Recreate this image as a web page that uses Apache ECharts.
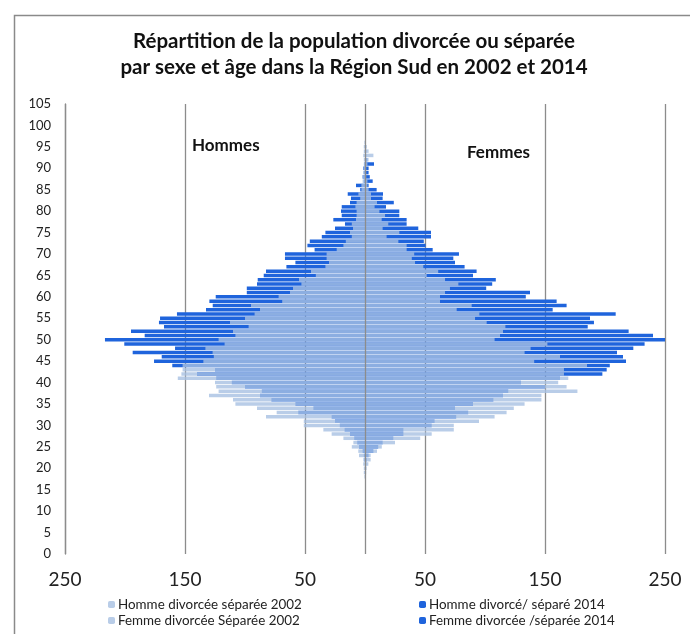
<!DOCTYPE html>
<html>
<head>
<meta charset="utf-8">
<script src="https://cdn.jsdelivr.net/npm/echarts@6/dist/echarts.min.js"></script>
<style>
html,body{margin:0;padding:0;background:#fff;}
#chart{width:690px;height:634px;}
</style>
</head>
<body>
<div id="chart"></div>
<script>
// Ages 0..105 (category axis)
var ages = [];
for (var a = 0; a <= 105; a++) ages.push(String(a));

// Values, index = age (0..105)
var hommes2002 = [
0,0,0,0,0,0,0,0,0,0, 0,0,0,0,0,0,0,0,0.5,1,
1,1.5,1.4,5,5.6,11,9.7,18,27.8,34.7,
51,51,82.5,73.6,90,108,110,130,122,124,
125,156,153,152,152,134.7,126,127,133,117,
122,108,110,97,112.5,100,92,87.5,95,69,
72,62.5,60,53,55,41,45,33,30,32,
32,23.6,18,16,11,12.5,10,11,7.5,7,
7,8,7,4,5.5,3,3,2,2,1.5,
1,1,1,1.5,1,1,0.5,0,0,0,
0,0,0,0,0,0];
var hommes2014 = [
0,0,0,0,0,0,0,0,0,0, 0,0,0,0,0,0,0,0,0,0,
0,0,0.5,1,2,5,6.5,9,12.5,17,
21,25,27.8,55.6,43,58,78,87.5,86,100,
111,124,140,125,160.6,175.8,169.4,193.6,158.3,200.6,
216.7,183.6,195,167.5,171.7,170.8,156.7,132.5,126.9,129.7,
124.4,98.5,98.5,90,89.4,84.4,82.5,65.5,58,66.7,
66.7,42,48,46,36,33,25,16.7,26.4,19.4,
20,19.4,12.5,11.7,14.4,4,7.5,1,2,1,
1.4,0.5,0,0,0,0,0,0,0,0,
0,0,0,0,0,0];
var femmes2002 = [
0,0,0,0,0,0,0,0,0,0, 0,0,0,0,0,0,0,0,0,1,
1.4,2.8,4.7,4.7,10,14,25,46,55.6,74,
74,95,108,118,124,133,147,147,177,168,
161,169.4,165.8,165.8,185,141,162.5,133,138,152,
108,112.5,115,117,101.4,91.7,95.3,76.4,88.9,62.5,
62.5,66.7,70.8,77.8,66.7,51.4,61,48.6,41.7,39,
41,34.7,34.7,27.8,18,28.6,14.7,19.4,13.9,16.7,
12,8,10,5,5,3,2,2,1,1,
1,2,3,7,3,1.5,0.5,0,0,0,
0,0,0,0,0,0];
var femmes2014 = [
0,0,0,0,0,0,0,0,0,0, 0,0,0,0,0,0,0,0,0,0,
0.5,1,1.4,3,7,11,14.7,23.6,32,32,
55.6,58,76,86,75,90,107,115,119.4,150,
130,162.5,197.8,201.4,204,217.5,215,210,223.6,233,
251.4,240,219.7,185.6,190.8,187.5,208.9,156.4,168,159.7,
134,137.5,101,106,109,90,93,83,75,73.6,
78.3,56.4,50.5,49,55,55,44.4,34.7,34.7,28.6,
28.6,17.5,24,14.7,15,9.7,3,6.4,4,3,
3,7.5,2,1,1,0.5,0,0,0,0,
0,0,0,0,0,0];

var names = {
  h2002: 'Homme divorcée séparée 2002',
  h2014: 'Homme divorcé/ séparé 2014',
  f2002: 'Femme divorcée Séparée 2002',
  f2014: 'Femme divorcée /séparée 2014'
};

var DARK = '#1f64dc';
var LIGHT = 'rgba(168,193,226,0.8)';
var FONT = 'Lato';

function neg(arr){ return arr.map(function(v){ return -v; }); }

var chart = echarts.init(document.getElementById('chart'), null, {renderer:'canvas'});
var barW = 3.5;
chart.setOption({
  animation: false,
  backgroundColor: '#fff',
  textStyle: {fontFamily: FONT},
  title: {
    text: 'Répartition de la population divorcée ou séparée\npar sexe et âge dans la Région Sud en 2002 et 2014',
    left: 349, top: 23, textAlign: 'center',
    textStyle: {fontFamily: FONT, fontSize: 20.5, fontWeight: 'bold', color: '#111', lineHeight: 26}
  },
  graphic: [
    {type:'rect', left: 12, top: 13, z: -10, shape:{width: 700, height: 640},
     style:{fill:'none', stroke:'#8a8a8a', lineWidth:1.5}},
    {type:'text', left: 192, top: 137, style:{text:'Hommes', font:'bold 17px Lato', fill:'#111'}},
    {type:'text', left: 467, top: 144, style:{text:'Femmes', font:'bold 17px Lato', fill:'#111'}}
  ],
  legend: [
    {orient:'vertical', left: 103, top: 593, itemWidth: 7, itemHeight: 7, itemGap: 3,
     data:[names.h2002, names.f2002],
     textStyle:{fontFamily: FONT, fontSize: 13.4, color:'#222', padding:[0,0,0,-2]}},
    {orient:'vertical', left: 414, top: 593, itemWidth: 7, itemHeight: 7, itemGap: 3,
     data:[names.h2014, names.f2014],
     textStyle:{fontFamily: FONT, fontSize: 13.4, color:'#222', padding:[0,0,0,-2]}}
  ],
  grid: {left: 65, right: 25, top: 104, bottom: 80, containLabel: false},
  xAxis: {
    type: 'value', min: -250, max: 250, interval: 100,
    axisLine: {show:false}, axisTick:{show:false},
    splitLine: {show:true, lineStyle:{color:'#8c8c8c', width:1.3}},
    axisLabel: {fontFamily: FONT, fontSize: 19, color:'#222', margin: 16,
      formatter: function(v){ return String(Math.abs(v)); }}
  },
  yAxis: {
    type: 'category', data: ages, boundaryGap: false,
    axisLine: {show:true, onZero:false, lineStyle:{color:'#8c8c8c', width:1.3}},
    axisTick: {show:false},
    splitLine: {show:false},
    axisLabel: {interval: 4, fontFamily: FONT, fontSize: 13, color:'#222', margin: 14}
  },
  series: [
    {name: names.h2014, type:'bar', stack:'y2014', data: neg(hommes2014), barWidth: barW, barGap:'-100%',
     itemStyle:{color: DARK}},
    {name: names.f2014, type:'bar', stack:'y2014', data: femmes2014, barWidth: barW, barGap:'-100%',
     itemStyle:{color: DARK}},
    {name: names.h2002, type:'bar', stack:'y2002', data: neg(hommes2002), barWidth: barW, barGap:'-100%',
     itemStyle:{color: LIGHT}},
    {name: names.f2002, type:'bar', stack:'y2002', data: femmes2002, barWidth: barW, barGap:'-100%',
     itemStyle:{color: LIGHT}},
    {name: 'axe', type:'line', data: [], z: 5, silent: true,
     markLine: {silent:true, symbol:'none', label:{show:false},
       lineStyle:{color:'#8c8c8c', width:1.3, type:'solid'},
       data:[{xAxis: 0}]}}
  ]
});
</script>
</body>
</html>
